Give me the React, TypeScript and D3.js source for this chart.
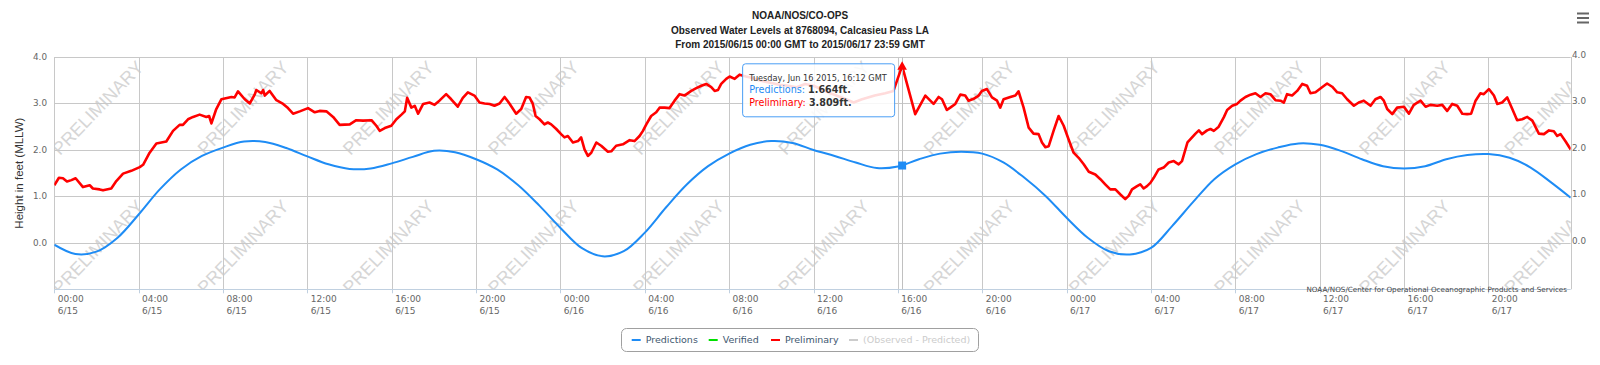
import React from 'react';
import * as d3 from 'd3';

// hours since 2015/06/15 00:00 GMT, feet above MLLW
const predictions: [number, number][] = [
  [0, -0.04], [1, -0.24], [2, -0.19], [3, 0.11], [4, 0.61], [5, 1.15], [6, 1.58], [7, 1.87],
  [8, 2.05], [9, 2.18], [10, 2.17], [11, 2.04], [12, 1.86], [13, 1.69], [14, 1.59], [15, 1.6],
  [16, 1.71], [17, 1.85], [18, 1.98], [19, 1.95], [20, 1.8], [21, 1.58], [22, 1.24], [23, 0.8],
  [24, 0.32], [25, -0.11], [26, -0.29], [27, -0.18], [28, 0.22], [29, 0.76], [30, 1.26], [31, 1.65],
  [32, 1.92], [33, 2.11], [34, 2.19], [35, 2.15], [36, 2.0], [37, 1.87], [38, 1.73], [39, 1.61],
  [40, 1.645], [41, 1.8], [42, 1.92], [43, 1.96], [44, 1.92], [45, 1.73], [46, 1.4], [47, 1.01],
  [48, 0.54], [49, 0.11], [50, -0.18], [51, -0.25], [52, -0.11], [53, 0.36], [54, 0.88], [55, 1.37],
  [56, 1.69], [57, 1.91], [58, 2.05], [59, 2.14], [60, 2.11], [61, 1.98], [62, 1.8], [63, 1.65],
  [64, 1.6], [65, 1.65], [66, 1.8], [67, 1.89], [68, 1.91], [69, 1.83], [70, 1.62], [71, 1.29],
  [71.9, 0.97],
];

const preliminary: [number, number][] = [
  [0, 1.24], [0.22, 1.4], [0.41, 1.39], [0.6, 1.32], [0.81, 1.35], [1.01, 1.39], [1.36, 1.2], [1.68, 1.24],
  [1.83, 1.17], [2.15, 1.15], [2.31, 1.13], [2.7, 1.17], [2.94, 1.33], [3.26, 1.49], [3.65, 1.55], [4.05, 1.63],
  [4.21, 1.68], [4.52, 1.94], [4.84, 2.14], [5.31, 2.18], [5.63, 2.41], [5.94, 2.54], [6.1, 2.54], [6.34, 2.66],
  [6.58, 2.71], [6.89, 2.76], [7.21, 2.71], [7.34, 2.73], [7.45, 2.57], [7.68, 2.88], [7.92, 3.09], [8.4, 3.14],
  [8.55, 3.13], [8.71, 3.26], [9.03, 3.09], [9.27, 3.0], [9.5, 3.19], [9.58, 3.29], [9.82, 3.22], [9.9, 3.29],
  [9.98, 3.17], [10.21, 3.27], [10.53, 3.07], [10.85, 2.99], [11.08, 2.9], [11.32, 2.78], [11.64, 2.83], [12.03, 2.9],
  [12.35, 2.81], [12.58, 2.84], [12.9, 2.83], [13.22, 2.71], [13.53, 2.54], [14.01, 2.55], [14.32, 2.64], [14.64, 2.63],
  [15.04, 2.64], [15.27, 2.52], [15.43, 2.41], [15.67, 2.47], [15.98, 2.52], [16.22, 2.66], [16.46, 2.76], [16.62, 2.83],
  [16.73, 3.12], [16.93, 2.91], [17.09, 2.95], [17.25, 2.78], [17.49, 2.99], [17.79, 3.02], [18.03, 2.97], [18.26, 3.06],
  [18.58, 3.2], [18.82, 3.09], [19.13, 2.93], [19.37, 3.12], [19.61, 3.24], [19.92, 3.17], [20.16, 3.02], [20.4, 3.0],
  [20.64, 2.99], [20.87, 2.95], [21.11, 3.0], [21.35, 3.14], [21.58, 3.0], [21.9, 2.78], [22.14, 2.88], [22.37, 3.14],
  [22.53, 3.13], [22.69, 2.99], [22.82, 2.73], [23.01, 2.66], [23.24, 2.55], [23.4, 2.59], [23.56, 2.55], [23.8, 2.45],
  [24.03, 2.34], [24.19, 2.27], [24.35, 2.3], [24.59, 2.16], [24.83, 2.19], [24.98, 2.27], [25.14, 2.01], [25.3, 1.87],
  [25.46, 1.94], [25.7, 2.16], [25.93, 2.09], [26.25, 1.96], [26.41, 1.97], [26.64, 2.09], [26.96, 2.12], [27.28, 2.21],
  [27.51, 2.19], [27.75, 2.3], [27.91, 2.41], [28.07, 2.55], [28.3, 2.73], [28.54, 2.81], [28.7, 2.91], [28.94, 2.91],
  [29.17, 2.9], [29.41, 3.06], [29.65, 3.2], [29.88, 3.17], [30.2, 3.27], [30.44, 3.33], [30.68, 3.38], [30.91, 3.42],
  [31.15, 3.35], [31.31, 3.27], [31.47, 3.29], [31.62, 3.42], [31.86, 3.53], [32.02, 3.58], [32.26, 3.53], [32.49, 3.62],
  [32.8, 3.58], [33.1, 3.55], [33.4, 3.5], [33.7, 3.47], [34.0, 3.44], [34.4, 3.4], [34.8, 3.38], [35.2, 3.35],
  [35.6, 3.42], [36.0, 3.38], [36.4, 3.3], [36.8, 3.22], [37.2, 3.15], [37.6, 3.08], [37.9, 3.02], [38.3, 3.09],
  [38.9, 3.17], [39.4, 3.22], [39.79, 3.27], [40.2, 3.809], [40.82, 2.77], [41.3, 3.17], [41.69, 2.99], [41.93, 3.14],
  [42.09, 3.09], [42.32, 2.86], [42.48, 2.91], [42.72, 2.99], [42.96, 3.19], [43.19, 3.17], [43.35, 3.06], [43.59, 3.1],
  [43.83, 3.17], [43.98, 3.27], [44.22, 3.31], [44.46, 3.13], [44.7, 3.06], [44.85, 2.91], [45.01, 3.09], [45.33, 3.14],
  [45.57, 3.17], [45.72, 3.26], [45.96, 2.91], [46.2, 2.48], [46.43, 2.35], [46.67, 2.34], [46.83, 2.16], [46.99, 2.06],
  [47.15, 2.08], [47.38, 2.41], [47.62, 2.73], [47.86, 2.52], [48.09, 2.23], [48.33, 1.94], [48.57, 1.83], [48.81, 1.69],
  [49.05, 1.53], [49.36, 1.47], [49.6, 1.37], [49.83, 1.26], [50.07, 1.15], [50.31, 1.15], [50.55, 1.04], [50.78, 0.94],
  [50.94, 1.01], [51.1, 1.15], [51.34, 1.22], [51.49, 1.26], [51.65, 1.17], [51.81, 1.22], [51.97, 1.29], [52.13, 1.4],
  [52.36, 1.58], [52.6, 1.62], [52.84, 1.73], [53.08, 1.76], [53.31, 1.69], [53.47, 1.76], [53.73, 2.16], [54.11, 2.35],
  [54.27, 2.42], [54.42, 2.34], [54.66, 2.42], [54.82, 2.45], [54.98, 2.41], [55.21, 2.5], [55.45, 2.7], [55.61, 2.86],
  [55.85, 2.95], [56.08, 2.99], [56.24, 3.06], [56.48, 3.14], [56.72, 3.19], [56.95, 3.22], [57.19, 3.14], [57.43, 3.22],
  [57.66, 3.2], [57.9, 3.07], [58.14, 3.06], [58.3, 3.02], [58.45, 3.2], [58.69, 3.17], [58.93, 3.27], [59.17, 3.42],
  [59.4, 3.38], [59.56, 3.22], [59.8, 3.24], [60.11, 3.35], [60.35, 3.43], [60.59, 3.36], [60.83, 3.24], [61.06, 3.22],
  [61.3, 3.09], [61.62, 2.95], [61.85, 3.02], [62.09, 3.06], [62.41, 2.95], [62.64, 3.09], [62.88, 3.14], [63.04, 3.06],
  [63.2, 2.88], [63.44, 2.77], [63.67, 2.91], [63.99, 2.93], [64.23, 2.78], [64.46, 2.97], [64.78, 3.06], [65.02, 2.93],
  [65.25, 2.97], [65.57, 2.95], [65.81, 2.97], [66.04, 2.84], [66.28, 2.99], [66.52, 2.95], [66.76, 2.78], [66.99, 2.77],
  [67.18, 2.78], [67.39, 3.06], [67.62, 3.22], [67.78, 3.2], [68.02, 3.31], [68.26, 3.17], [68.42, 2.99], [68.65, 3.02],
  [68.89, 3.13], [69.13, 2.88], [69.36, 2.64], [69.6, 2.66], [69.84, 2.71], [70.08, 2.63], [70.39, 2.35], [70.63, 2.34],
  [70.87, 2.42], [71.1, 2.4], [71.26, 2.3], [71.42, 2.34], [71.66, 2.18], [71.9, 2.01],
];

const tickHours = [0, 4, 8, 12, 16, 20, 24, 28, 32, 36, 40, 44, 48, 52, 56, 60, 64, 68];
const tickTimes = ['00:00', '04:00', '08:00', '12:00', '16:00', '20:00', '00:00', '04:00', '08:00',
  '12:00', '16:00', '20:00', '00:00', '04:00', '08:00', '12:00', '16:00', '20:00'];
const tickDates = ['6/15', '6/15', '6/15', '6/15', '6/15', '6/15', '6/16', '6/16', '6/16',
  '6/16', '6/16', '6/16', '6/17', '6/17', '6/17', '6/17', '6/17', '6/17'];
const yTicks = [0, 1, 2, 3, 4];

const titleLines = [
  'NOAA/NOS/CO-OPS',
  'Observed Water Levels at 8768094, Calcasieu Pass LA',
  'From 2015/06/15 00:00 GMT to 2015/06/17 23:59 GMT',
];

const legendItems = [
  { name: 'Predictions', color: '#1e8cf5', text: '#3e576f', x: 645.7 },
  { name: 'Verified', color: '#00e000', text: '#3e576f', x: 722.7 },
  { name: 'Preliminary', color: '#ff0000', text: '#3e576f', x: 785 },
  { name: '(Observed - Predicted)', color: '#cccccc', text: '#cccccc', x: 863 },
];

const hover = { hour: 40.2, label: 'Tuesday, Jun 16 2015, 16:12 GMT', pred: 1.664, prelim: 3.809 };

const BLUE = '#1e8cf5';
const RED = '#ff0000';
const W = 1600;
const H = 365;
const left = 54.3, right = 1570.7, top = 57, bottom = 289.3;
const sans = "'DejaVu Sans', Verdana, sans-serif";
const arial = "'Liberation Sans', Arial, sans-serif";

const x = d3.scaleLinear().domain([0, 71.9]).range([left, right]);
const y = d3.scaleLinear().domain([-1, 4]).range([bottom, top]);
const px = (v: number) => Math.round(v) + 0.5;

export default function App() {
  const predPath = d3.line<[number, number]>()
    .x(d => x(d[0])).y(d => y(d[1]))
    .curve(d3.curveCatmullRom.alpha(0.5))(predictions) || '';
  const prelimPath = d3.line<[number, number]>()
    .x(d => x(d[0])).y(d => y(d[1]))(preliminary) || '';

  const hx = x(hover.hour);
  const tipW = 152, tipH = 53;
  const tipX = hx - 160, tipY = 63.3;
  const tri = d3.symbol().type(d3.symbolTriangle).size(40)() || '';

  const marks = d3.range(11).map(k => 98 + 145.2 * k);

  return (
    <svg width={W} height={H} style={{ position: 'absolute', left: 0, top: 0, background: '#fff' }} fontFamily={sans}>
      <defs>
        <clipPath id="plotClip">
          <rect x={left} y={top} width={right - left} height={bottom - top} />
        </clipPath>
      </defs>

      {/* watermark */}
      <g clipPath="url(#plotClip)" fontFamily={arial} fontSize={18} fill="#d6d6d6">
        {marks.map((cx, i) => [108, 247].map(cy => (
          <text key={i + '-' + cy} transform={`translate(${cx},${cy}) rotate(-46)`} textAnchor="middle" dy="6">PRELIMINARY</text>
        )))}
      </g>

      {/* grid */}
      <g stroke="#c8c8c8" strokeWidth={1}>
        {yTicks.map(v => <line key={v} x1={left} x2={right} y1={px(y(v))} y2={px(y(v))} />)}
        {tickHours.map(h => <line key={h} x1={px(x(h))} x2={px(x(h))} y1={top} y2={bottom} />)}
        <line x1={px(right)} x2={px(right)} y1={top} y2={bottom} />
      </g>

      {/* x axis */}
      <line x1={left} x2={right} y1={px(bottom)} y2={px(bottom)} stroke="#c0d0e0" />
      <g stroke="#c0d0e0">
        {tickHours.map(h => <line key={h} x1={px(x(h))} x2={px(x(h))} y1={bottom} y2={bottom + 4} />)}
      </g>
      <g fontSize={9} fill="#666">
        {tickHours.map((h, i) => (
          <text key={h} x={x(h) + 3.4} y={301.7}>
            <tspan>{tickTimes[i]}</tspan>
            <tspan x={x(h) + 3.4} y={313.5}>{tickDates[i]}</tspan>
          </text>
        ))}
      </g>

      {/* y axes */}
      <g fontSize={8.8} fill="#666">
        {yTicks.map(v => (
          <text key={'l' + v} x={47} y={y(v) + 3} textAnchor="end">{v.toFixed(1)}</text>
        ))}
        {yTicks.map(v => (
          <text key={'r' + v} x={1572} y={y(v) + 1} textAnchor="start">{v.toFixed(1)}</text>
        ))}
      </g>
      <text transform={`translate(22.5,${(top + bottom) / 2}) rotate(-90)`} textAnchor="middle"
        fontFamily={arial} fontSize={11.5} fill="#333">Height in feet (MLLW)</text>

      {/* series */}
      <g clipPath="url(#plotClip)">
        <path d={predPath} fill="none" stroke={BLUE} strokeWidth={2} strokeLinejoin="round" />
        <path d={prelimPath} fill="none" stroke={RED} strokeWidth={2.6} strokeLinejoin="round" />
      </g>

      {/* hover state */}
      <line x1={px(hx)} x2={px(hx)} y1={top} y2={bottom} stroke="#c0c0c0" />
      <rect x={hx - 4} y={y(hover.pred) - 4} width={8} height={8} fill={BLUE} />
      <path d={tri} transform={`translate(${hx},${y(hover.prelim) + 1})`} fill={RED} />

      {/* tooltip */}
      <rect x={tipX + 0.5} y={tipY + 0.5} width={tipW} height={tipH} rx={3}
        fill="rgba(255,255,255,0.86)" stroke="#4a9ef5" strokeWidth={1} />
      <text x={tipX + 7} y={80.7} fontSize={8.2} fill="#333">{hover.label}</text>
      <text x={tipX + 7} y={92.8} fontSize={9.6}>
        <tspan fill={BLUE}>Predictions: </tspan>
        <tspan fill="#333" fontWeight="bold">{hover.pred.toFixed(3)}ft.</tspan>
      </text>
      <text x={tipX + 7} y={106.2} fontSize={9.6}>
        <tspan fill={RED}>Preliminary: </tspan>
        <tspan fill="#333" fontWeight="bold">{hover.prelim.toFixed(3)}ft.</tspan>
      </text>

      {/* title */}
      <g fontFamily={arial} fontWeight="bold" fontSize={10} fill="#222" textAnchor="middle">
        {titleLines.map((t, i) => <text key={i} x={800} y={[19.3, 34, 47.7][i]}>{t}</text>)}
      </g>

      {/* credits */}
      <text x={1567} y={291.5} textAnchor="end" fontSize={7.2} fill="#444">
        NOAA/NOS/Center for Operational Oceanographic Products and Services
      </text>

      {/* legend */}
      <rect x={621.5} y={328.5} width={357} height={23} rx={5} fill="#fff" stroke="#a0a0a0" />
      {legendItems.map(it => (
        <g key={it.name}>
          <line x1={it.x - 14} x2={it.x - 5} y1={340} y2={340} stroke={it.color} strokeWidth={2} />
          <text x={it.x} y={343.4} fontSize={9.5} fill={it.text}>{it.name}</text>
        </g>
      ))}

      {/* menu */}
      <g fill="#666">
        {[12.5, 17, 21.5].map(yy => <rect key={yy} x={1577} y={yy} width={12} height={2} />)}
      </g>
    </svg>
  );
}
